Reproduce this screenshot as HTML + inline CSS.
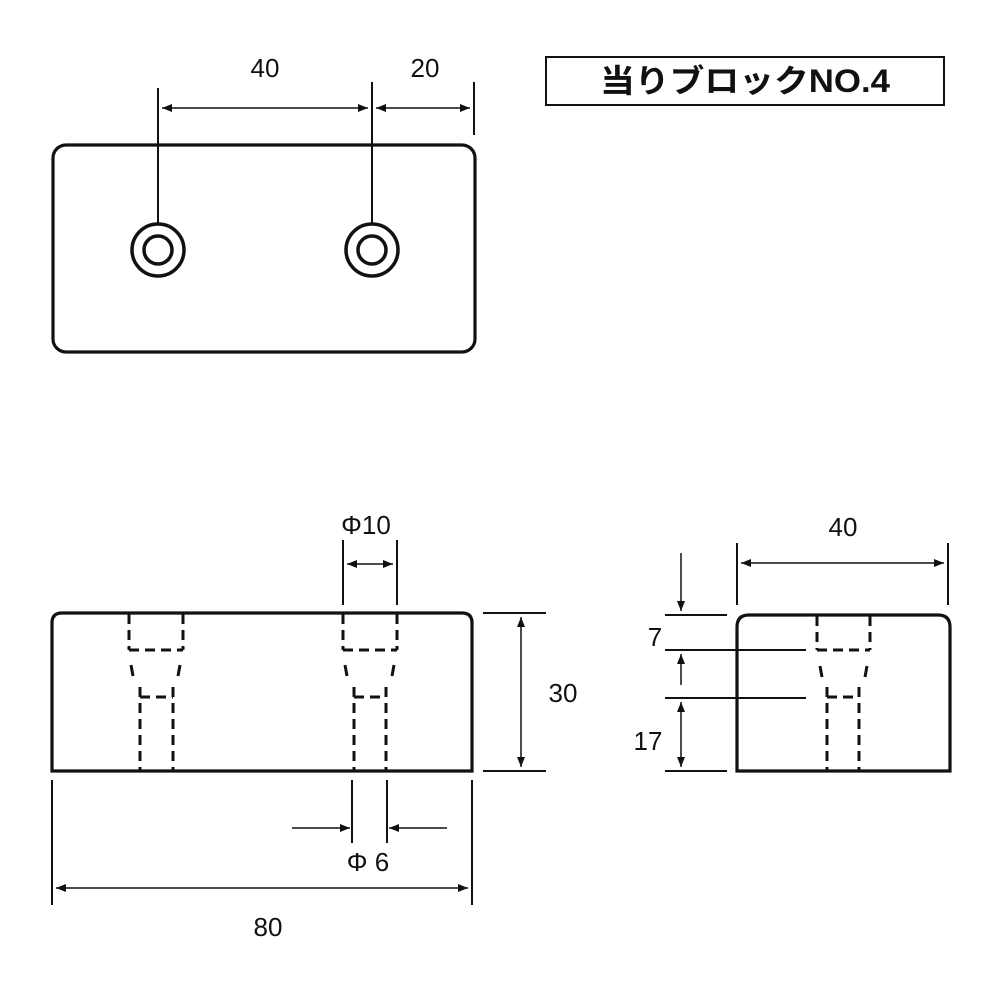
<!DOCTYPE html>
<html><head><meta charset="utf-8"><style>
html,body{margin:0;padding:0;background:#fff}
svg{display:block}
text{font-family:"Liberation Sans","Noto Sans CJK JP",sans-serif;fill:#111}
</style></head><body>
<svg width="1000" height="1000" viewBox="0 0 1000 1000" xmlns="http://www.w3.org/2000/svg">
<defs>
<marker id="a" viewBox="0 0 10 10" refX="10" refY="5" markerWidth="12" markerHeight="10" orient="auto-start-reverse" markerUnits="userSpaceOnUse"><path d="M0,1 L10,5 L0,9 Z" fill="#111"/></marker>
</defs>
<g stroke="#111" fill="none">
<!-- top view -->
<rect x="53" y="145" width="422" height="207" rx="13" stroke-width="3.2"/>
<circle cx="158" cy="250" r="26" stroke-width="3.5"/>
<circle cx="158" cy="250" r="14" stroke-width="3.5"/>
<circle cx="372" cy="250" r="26" stroke-width="3.5"/>
<circle cx="372" cy="250" r="14" stroke-width="3.5"/>
<line x1="158" y1="88" x2="158" y2="224" stroke-width="2"/>
<line x1="372" y1="82" x2="372" y2="224" stroke-width="2"/>
<line x1="474" y1="82" x2="474" y2="135" stroke-width="2"/>
<line x1="162" y1="108" x2="368" y2="108" stroke-width="1.5" marker-start="url(#a)" marker-end="url(#a)"/>
<line x1="376" y1="108" x2="470" y2="108" stroke-width="1.5" marker-start="url(#a)" marker-end="url(#a)"/>
<!-- title box -->
<rect x="546" y="57" width="398" height="48" stroke-width="2"/>
<!-- front view -->
<path d="M52,771 L52,623 Q52,613 62,613 L462,613 Q472,613 472,623 L472,771 Z" stroke-width="3.2"/>
<g stroke-width="3" stroke-dasharray="10,6">
<line x1="129" y1="614" x2="129" y2="650"/><line x1="183" y1="614" x2="183" y2="650"/>
<line x1="343" y1="614" x2="343" y2="650"/><line x1="397" y1="614" x2="397" y2="650"/>
<line x1="129" y1="650" x2="183" y2="650"/><line x1="343" y1="650" x2="397" y2="650"/>
<line x1="140" y1="697" x2="173" y2="697"/><line x1="354" y1="697" x2="386" y2="697"/>
<line x1="140" y1="687" x2="140" y2="771"/><line x1="173" y1="687" x2="173" y2="771"/>
<line x1="354" y1="687" x2="354" y2="771"/><line x1="386" y1="687" x2="386" y2="771"/>
</g>
<g stroke-width="3">
<line x1="131" y1="665" x2="133" y2="676"/><line x1="180" y1="665" x2="178" y2="676"/>
<line x1="345" y1="665" x2="347" y2="676"/><line x1="394" y1="665" x2="392" y2="676"/>
</g>
<!-- front dims -->
<line x1="343" y1="540" x2="343" y2="605" stroke-width="2"/>
<line x1="397" y1="540" x2="397" y2="605" stroke-width="2"/>
<line x1="347" y1="564" x2="393" y2="564" stroke-width="1.5" marker-start="url(#a)" marker-end="url(#a)"/>
<line x1="483" y1="613" x2="546" y2="613" stroke-width="2"/>
<line x1="483" y1="771" x2="546" y2="771" stroke-width="2"/>
<line x1="521" y1="617" x2="521" y2="767" stroke-width="1.5" marker-start="url(#a)" marker-end="url(#a)"/>
<line x1="352" y1="780" x2="352" y2="843" stroke-width="2"/>
<line x1="387" y1="780" x2="387" y2="843" stroke-width="2"/>
<line x1="292" y1="828" x2="350" y2="828" stroke-width="1.5" marker-end="url(#a)"/>
<line x1="447" y1="828" x2="389" y2="828" stroke-width="1.5" marker-end="url(#a)"/>
<line x1="52" y1="780" x2="52" y2="905" stroke-width="2"/>
<line x1="472" y1="780" x2="472" y2="905" stroke-width="2"/>
<line x1="56" y1="888" x2="468" y2="888" stroke-width="1.5" marker-start="url(#a)" marker-end="url(#a)"/>
<!-- side view -->
<path d="M737,771 L737,627 Q737,615 749,615 L938,615 Q950,615 950,627 L950,771 Z" stroke-width="3.2"/>
<g stroke-width="3" stroke-dasharray="10,6">
<line x1="817" y1="616" x2="817" y2="650"/><line x1="870" y1="616" x2="870" y2="650"/>
<line x1="817" y1="650" x2="870" y2="650"/>
<line x1="827" y1="697" x2="859" y2="697"/>
<line x1="827" y1="687" x2="827" y2="771"/><line x1="859" y1="687" x2="859" y2="771"/>
</g>
<line x1="820" y1="666" x2="822" y2="677" stroke-width="3"/><line x1="867" y1="666" x2="865" y2="677" stroke-width="3"/>
<line x1="737" y1="543" x2="737" y2="605" stroke-width="2"/>
<line x1="948" y1="543" x2="948" y2="605" stroke-width="2"/>
<line x1="741" y1="563" x2="944" y2="563" stroke-width="1.5" marker-start="url(#a)" marker-end="url(#a)"/>
<line x1="665" y1="615" x2="727" y2="615" stroke-width="2"/>
<line x1="665" y1="650" x2="806" y2="650" stroke-width="2"/>
<line x1="665" y1="698" x2="806" y2="698" stroke-width="2"/>
<line x1="665" y1="771" x2="727" y2="771" stroke-width="2"/>
<line x1="681" y1="553" x2="681" y2="611" stroke-width="1.5" marker-end="url(#a)"/>
<line x1="681" y1="685" x2="681" y2="654" stroke-width="1.5" marker-end="url(#a)"/>
<line x1="681" y1="702" x2="681" y2="767" stroke-width="1.5" marker-start="url(#a)" marker-end="url(#a)"/>
</g>
<!-- labels -->
<g font-size="26">
<text x="265" y="77" text-anchor="middle">40</text>
<text x="425" y="77" text-anchor="middle">20</text>
<text x="366" y="534" text-anchor="middle">Φ10</text>
<text x="563" y="702" text-anchor="middle">30</text>
<text x="368" y="871" text-anchor="middle">Φ 6</text>
<text x="268" y="936" text-anchor="middle">80</text>
<text x="843" y="536" text-anchor="middle">40</text>
<text x="655" y="646" text-anchor="middle">7</text>
<text x="648" y="750" text-anchor="middle">17</text>
</g>
<text x="745" y="92" text-anchor="middle" font-size="32" font-weight="bold" textLength="290" lengthAdjust="spacingAndGlyphs">当りブロックNO.4</text>
</svg>
</body></html>
